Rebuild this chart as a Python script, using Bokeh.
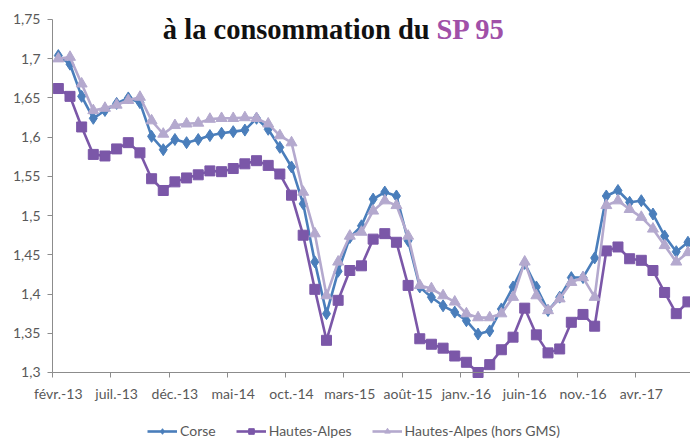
from bokeh.plotting import figure
from bokeh.models import Range1d, FixedTicker, Legend, LegendItem, Label, ColumnDataSource
from bokeh.embed import file_html
from bokeh.resources import INLINE

months = [
    "févr.-13", "mars-13", "avr.-13", "mai-13", "juin-13", "juil.-13", "août-13", "sept.-13", "oct.-13", "nov.-13", "déc.-13",
    "janv.-14", "févr.-14", "mars-14", "avr.-14", "mai-14", "juin-14", "juil.-14", "août-14", "sept.-14", "oct.-14", "nov.-14", "déc.-14",
    "janv.-15", "févr.-15", "mars-15", "avr.-15", "mai-15", "juin-15", "juil.-15", "août-15", "sept.-15", "oct.-15", "nov.-15", "déc.-15",
    "janv.-16", "févr.-16", "mars-16", "avr.-16", "mai-16", "juin-16", "juil.-16", "août-16", "sept.-16", "oct.-16", "nov.-16", "déc.-16",
    "janv.-17", "févr.-17", "mars-17", "avr.-17", "mai-17", "juin-17", "juil.-17", "août-17",
]

corse = [1.704, 1.693, 1.652, 1.624, 1.634, 1.643, 1.650, 1.644, 1.601, 1.584, 1.597,
         1.593, 1.597, 1.602, 1.605, 1.607, 1.609, 1.624, 1.610, 1.587, 1.562, 1.515, 1.441,
         1.375, 1.429, 1.472, 1.487, 1.521, 1.530, 1.525, 1.468, 1.409, 1.396, 1.385, 1.377,
         1.366, 1.349, 1.353, 1.381, 1.409, 1.439, 1.409, 1.379, 1.396, 1.421, 1.421, 1.446,
         1.525, 1.532, 1.517, 1.519, 1.502, 1.474, 1.454, 1.466]

hautes_alpes = [1.662, 1.652, 1.613, 1.578, 1.576, 1.585, 1.593, 1.580, 1.547, 1.532, 1.543,
                1.548, 1.552, 1.557, 1.556, 1.560, 1.566, 1.570, 1.564, 1.553, 1.526, 1.475, 1.406,
                1.341, 1.392, 1.430, 1.436, 1.470, 1.477, 1.466, 1.411, 1.343, 1.336, 1.331, 1.321,
                1.313, 1.300, 1.310, 1.329, 1.345, 1.382, 1.348, 1.325, 1.330, 1.364, 1.374, 1.359,
                1.455, 1.460, 1.445, 1.443, 1.430, 1.402, 1.375, 1.390]

hautes_alpes_hors_gms = [1.700, 1.702, 1.668, 1.634, 1.637, 1.641, 1.647, 1.651, 1.621, 1.604, 1.615,
                         1.617, 1.618, 1.623, 1.624, 1.624, 1.625, 1.624, 1.617, 1.602, 1.593, 1.530, 1.477,
                         1.398, 1.441, 1.474, 1.479, 1.506, 1.519, 1.513, 1.474, 1.411, 1.407, 1.398, 1.390,
                         1.375, 1.370, 1.370, 1.375, 1.396, 1.441, 1.398, 1.379, 1.394, 1.415, 1.421, 1.396,
                         1.513, 1.519, 1.508, 1.498, 1.483, 1.462, 1.441, 1.453]

y_ticks = [1.3, 1.35, 1.4, 1.45, 1.5, 1.55, 1.6, 1.65, 1.7, 1.75]
y_tick_labels = ["1,3", "1,35", "1,4", "1,45", "1,5", "1,55", "1,6", "1,65", "1,7", "1,75"]
x_tick_idx = [0, 5, 10, 15, 20, 25, 30, 35, 40, 45, 50]

series_names = ["Corse", "Hautes-Alpes", "Hautes-Alpes (hors GMS)"]
colors = ["#4A7EBB", "#7B57A8", "#B4A9CE"]

x = list(range(len(months)))
y_min, y_max = y_ticks[0], y_ticks[-1]
x_first = x[0] - 0.5

# the frame fills the whole figure; both axes are drawn at fixed data locations inside it
p = figure(width=690, height=440, output_backend="svg", toolbar_location=None,
           x_range=Range1d(-4.96, 54.22), y_range=Range1d(1.2133, 1.7742),
           min_border_left=0, min_border_right=0, min_border_top=0, min_border_bottom=0)
p.background_fill_color = "white"
p.border_fill_color = "white"
p.outline_line_color = None
p.xgrid.visible = False
p.ygrid.visible = False

axis_color = "#8C8C8C"
label_color = "#595959"

p.yaxis.fixed_location = x_first
p.yaxis.ticker = FixedTicker(ticks=y_ticks)
p.yaxis.bounds = (y_min, y_max)
p.yaxis.major_label_overrides = dict(zip(y_ticks, y_tick_labels))
p.yaxis.axis_line_color = axis_color
p.yaxis.major_tick_line_color = axis_color
p.yaxis.major_tick_out = 5
p.yaxis.major_tick_in = 0
p.yaxis.minor_tick_line_color = None
p.yaxis.major_label_standoff = 7
p.yaxis.major_label_text_font = "Lato"
p.yaxis.major_label_text_font_size = "14px"
p.yaxis.major_label_text_color = label_color

p.xaxis.fixed_location = y_min
p.xaxis.bounds = (x_first, 60)
p.xaxis.ticker = FixedTicker(ticks=x_tick_idx, minor_ticks=[i - 0.5 for i in x_tick_idx])
p.xaxis.major_label_overrides = {i: months[i] for i in x_tick_idx}
p.xaxis.axis_line_color = axis_color
p.xaxis.major_tick_line_color = None
p.xaxis.major_tick_out = 0
p.xaxis.major_tick_in = 0
p.xaxis.minor_tick_line_color = axis_color
p.xaxis.minor_tick_out = 5
p.xaxis.minor_tick_in = 0
p.xaxis.major_label_standoff = 8
p.xaxis.major_label_text_font = "Lato"
p.xaxis.major_label_text_font_size = "14px"
p.xaxis.major_label_text_color = label_color

items = []
specs = [(corse, "diamond", 12), (hautes_alpes, "square", 10), (hautes_alpes_hors_gms, "triangle", 11)]
for (vals, marker, size), name, col in zip(specs, series_names, colors):
    src = ColumnDataSource(dict(x=x, y=vals))
    ln = p.line("x", "y", source=src, line_color=col, line_width=2.6)
    sc = p.scatter("x", "y", source=src, marker=marker, size=size, fill_color=col, line_color=col)
    items.append(LegendItem(label=name, renderers=[ln, sc]))

legend = Legend(items=items, orientation="horizontal", location=(147, 1),
                padding=0, margin=0, spacing=20, label_standoff=3,
                glyph_width=30, glyph_height=14, label_height=14,
                label_text_font="Lato", label_text_font_size="14px", label_text_color=label_color,
                background_fill_alpha=0, border_line_color=None)
p.add_layout(legend)

p.add_layout(Label(x=31.85, y=1.7372, text="à la consommation du", text_align="right",
                   text_baseline="alphabetic", text_font="Liberation Serif", text_font_style="bold",
                   text_font_size="28.5px", text_color="#111111"))
p.add_layout(Label(x=32.43, y=1.7372, text="SP 95", text_align="left",
                   text_baseline="alphabetic", text_font="Liberation Serif", text_font_style="bold",
                   text_font_size="28.5px", text_color="#A050A8"))

open("out.html", "w").write(file_html(p, INLINE))
